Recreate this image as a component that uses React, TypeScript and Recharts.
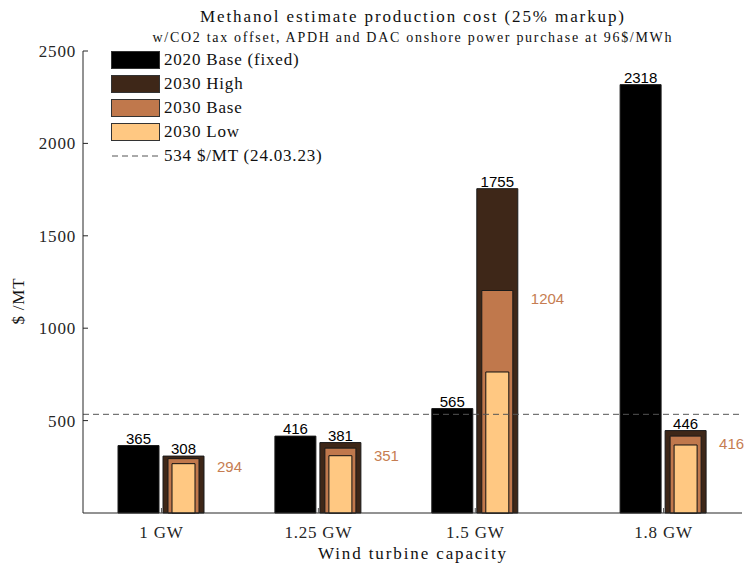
import { BarChart, Bar, XAxis, YAxis, ReferenceLine, LabelList } from "recharts";

const capacities = [1, 1.25, 1.5, 1.8];
const base2020 = [365, 416, 565, 2318];
const high2030 = [308, 381, 1755, 446];
const base2030 = [294, 351, 1204, 416];
const low2030 = [267, 310, 763, 368];
const marketPrice = 534;
const yTicks = [500, 1000, 1500, 2000, 2500];

const seriesNames = ["2020 Base (fixed)", "2030 High", "2030 Base", "2030 Low"];
const seriesColors = ["#000000", "#3e2718", "#c0784c", "#ffc882"];

const SERIF = "'Liberation Serif', 'Times New Roman', serif";
const SANS = "'Liberation Sans', Arial, sans-serif";
const AXIS = "#262626";
const BASE_TEXT = "#c67d52";

const data = capacities.map((c, i) => ({
  cap: c,
  black: base2020[i],
  high: high2030[i],
  base: base2030[i],
  low: low2030[i],
}));

function XTick({ x = 0, y = 0, payload }: any) {
  return (
    <g>
      <line x1={x} y1={y} x2={x} y2={y - 5} stroke="#555" strokeWidth={1} />
      <text x={x} y={y + 25} textAnchor="middle" fill={AXIS} fontFamily={SERIF} fontSize={17} letterSpacing={0.8}>
        {`${payload.value} GW`}
      </text>
    </g>
  );
}

function YTick({ x = 0, y = 0, payload }: any) {
  return (
    <g>
      <line x1={x} y1={y} x2={x + 5} y2={y} stroke={AXIS} strokeWidth={1} />
      <text x={x - 7} y={y + 6} textAnchor="end" fill={AXIS} fontFamily={SERIF} fontSize={17} letterSpacing={0.8}>
        {payload.value}
      </text>
    </g>
  );
}

function BaseLabel({ x = 0, y = 0, width = 0, value }: any) {
  return (
    <text x={x + width + 18} y={y + 13} fill={BASE_TEXT} fontFamily={SANS} fontSize={15}>
      {value}
    </text>
  );
}

function LegendBox() {
  return (
    <div style={{ position: "absolute", left: 111, top: 51, fontFamily: SERIF, fontSize: 17, letterSpacing: 0.8, color: "#111" }}>
      {seriesNames.map((n, i) => (
        <div key={n} style={{ display: "flex", alignItems: "center", height: 24 }}>
          <span
            style={{
              display: "inline-block",
              width: 47,
              height: 16,
              background: seriesColors[i],
              border: "1px solid #333",
              marginRight: 4,
              marginTop: -6,
            }}
          />
          <span style={{ marginTop: -6 }}>{n}</span>
        </div>
      ))}
      <div style={{ display: "flex", alignItems: "center", height: 24 }}>
        <svg width={49} height={4} style={{ marginRight: 4, marginTop: -6 }}>
          <line x1={1} y1={2} x2={48} y2={2} stroke="#555" strokeDasharray="6 4" />
        </svg>
        <span style={{ marginTop: -6 }}>{`${marketPrice} $/MT (24.03.23)`}</span>
      </div>
    </div>
  );
}

export default function App() {
  return (
    <div style={{ position: "absolute", left: 0, top: 0, width: 745, height: 568, background: "#fff" }}>
      <BarChart
        width={745}
        height={568}
        data={data}
        margin={{ top: 51, right: 3, bottom: 25, left: 0 }}
        barGap={4}
      >
        <XAxis
          type="number"
          dataKey="cap"
          domain={[0.875, 1.925]}
          ticks={capacities}
          allowDataOverflow
          height={30}
          tick={<XTick />}
          tickLine={false}
          tickSize={0}
          tickMargin={0}
          stroke={AXIS}
          interval={0}
        />
        <XAxis xAxisId="b" type="number" dataKey="cap" domain={[0.875, 1.925]} ticks={capacities} allowDataOverflow hide />
        <XAxis xAxisId="c" type="number" dataKey="cap" domain={[0.875, 1.925]} ticks={capacities} allowDataOverflow hide />
        <YAxis
          type="number"
          domain={[0, 2500]}
          ticks={yTicks}
          width={83}
          tick={<YTick />}
          tickLine={false}
          tickSize={0}
          tickMargin={0}
          stroke={AXIS}
          interval={0}
        />
        <ReferenceLine y={marketPrice} stroke="#555" strokeDasharray="6 4" />
        <Bar dataKey="black" barSize={41} fill={seriesColors[0]} stroke="#1a1a1a" isAnimationActive={false}>
          <LabelList dataKey="black" position="top" offset={2} fill="#000" fontFamily={SANS} fontSize={15} />
        </Bar>
        <Bar dataKey="high" barSize={41} fill={seriesColors[1]} stroke="#1a1a1a" isAnimationActive={false}>
          <LabelList dataKey="high" position="top" offset={2} fill="#000" fontFamily={SANS} fontSize={15} />
        </Bar>
        <Bar xAxisId="b" dataKey="black" barSize={41} fill="transparent" stroke="none" isAnimationActive={false} />
        <Bar xAxisId="b" dataKey="base" barSize={31} fill={seriesColors[2]} stroke="#1a1a1a" isAnimationActive={false}>
          <LabelList dataKey="base" content={<BaseLabel />} />
        </Bar>
        <Bar xAxisId="c" dataKey="black" barSize={41} fill="transparent" stroke="none" isAnimationActive={false} />
        <Bar xAxisId="c" dataKey="low" barSize={23} fill={seriesColors[3]} stroke="#111" isAnimationActive={false} />
      </BarChart>
      <svg width={745} height={568} style={{ position: "absolute", left: 0, top: 0, pointerEvents: "none" }}>
        <text x={412} y={22} textAnchor="middle" fontFamily={SERIF} fontSize={17} fill="#111" textLength={424} lengthAdjust="spacing">
          Methanol estimate production cost (25% markup)
        </text>
        <text x={412} y={42} textAnchor="middle" fontFamily={SERIF} fontSize={14} fill="#111" textLength={519} lengthAdjust="spacing">
          w/CO2 tax offset, APDH and DAC onshore power purchase at 96$/MWh
        </text>
        <text x={412} y={559} textAnchor="middle" fontFamily={SERIF} fontSize={17} fill="#111" textLength={188} lengthAdjust="spacing">
          Wind turbine capacity
        </text>
        <text x={24} y={301} textAnchor="middle" fontFamily={SERIF} fontSize={17} fill="#111" transform="rotate(-90 24 301)" letterSpacing={0.8}>
          $ /MT
        </text>
      </svg>
      <LegendBox />
    </div>
  );
}
